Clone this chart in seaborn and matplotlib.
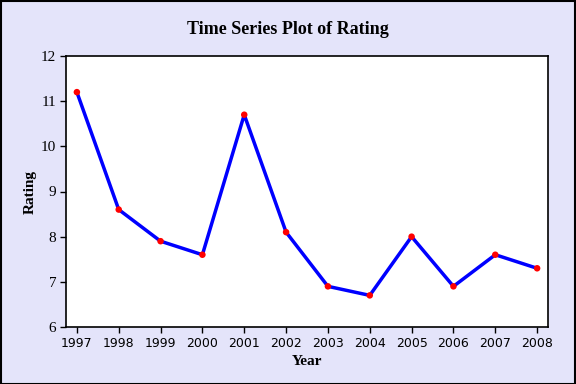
import numpy as np
import pandas as pd
import matplotlib
matplotlib.use('Agg')
import matplotlib.pyplot as plt
import seaborn as sns

years = [1997, 1998, 1999, 2000, 2001, 2002, 2003, 2004, 2005, 2006, 2007, 2008]
rating = [11.2, 8.6, 7.9, 7.6, 10.7, 8.1, 6.9, 6.7, 8.0, 6.9, 7.6, 7.3]
y_ticks = [6, 7, 8, 9, 10, 11, 12]

df = pd.DataFrame({'Year': years, 'Rating': rating})

sns.set_style('ticks', {'text.color': 'black', 'axes.labelcolor': 'black',
                        'xtick.color': 'black', 'ytick.color': 'black',
                        'axes.edgecolor': 'black'})
bg = '#E4E4FA'

fig = plt.figure(figsize=(5.76, 3.84), dpi=100, facecolor=bg)
ax = fig.add_axes([66 / 576, 1 - 327 / 384, (548 - 66) / 576, (327 - 56) / 384])
ax.set_facecolor('white')

sns.lineplot(data=df, x='Year', y='Rating', color='#0000FF', linewidth=2.5, ax=ax, zorder=2)
sns.scatterplot(data=df, x='Year', y='Rating', color='#FF0000', s=22, edgecolor='none', ax=ax, zorder=3)

ax.set_xlim(1996.74, 2008.26)
ax.set_ylim(6, 12)
ax.set_xticks(years)
ax.set_xticklabels([str(y) for y in years], fontfamily='DejaVu Sans', fontsize=9, color='black')
ax.set_yticks(y_ticks)
ax.set_yticklabels([str(v) for v in y_ticks], fontfamily='Liberation Serif', fontsize=11, color='black')
ax.tick_params(direction='out', length=4, width=1, color='black', pad=3)

for s in ax.spines.values():
    s.set_visible(True)
    s.set_color('black')
    s.set_linewidth(1.2)

ax.set_xlabel('Year', fontfamily='Liberation Serif', fontweight='bold', fontsize=11,
              labelpad=4, color='black')
ax.set_ylabel('Rating', fontfamily='Liberation Serif', fontweight='bold', fontsize=11,
              color='black')
ax.yaxis.set_label_coords((37 - 66) / (548 - 66), 0.5)
fig.text(0.5, 1 - 30 / 384, 'Time Series Plot of Rating', ha='center', va='center',
         fontfamily='Liberation Serif', fontweight='bold', fontsize=13, color='black')

# outer frame
fig.patches.append(plt.Rectangle((0.001, 0.001), 0.997, 0.997, transform=fig.transFigure,
                                 fill=False, edgecolor='black', linewidth=1.5))

fig.savefig('out.png', dpi=100, facecolor=bg)
